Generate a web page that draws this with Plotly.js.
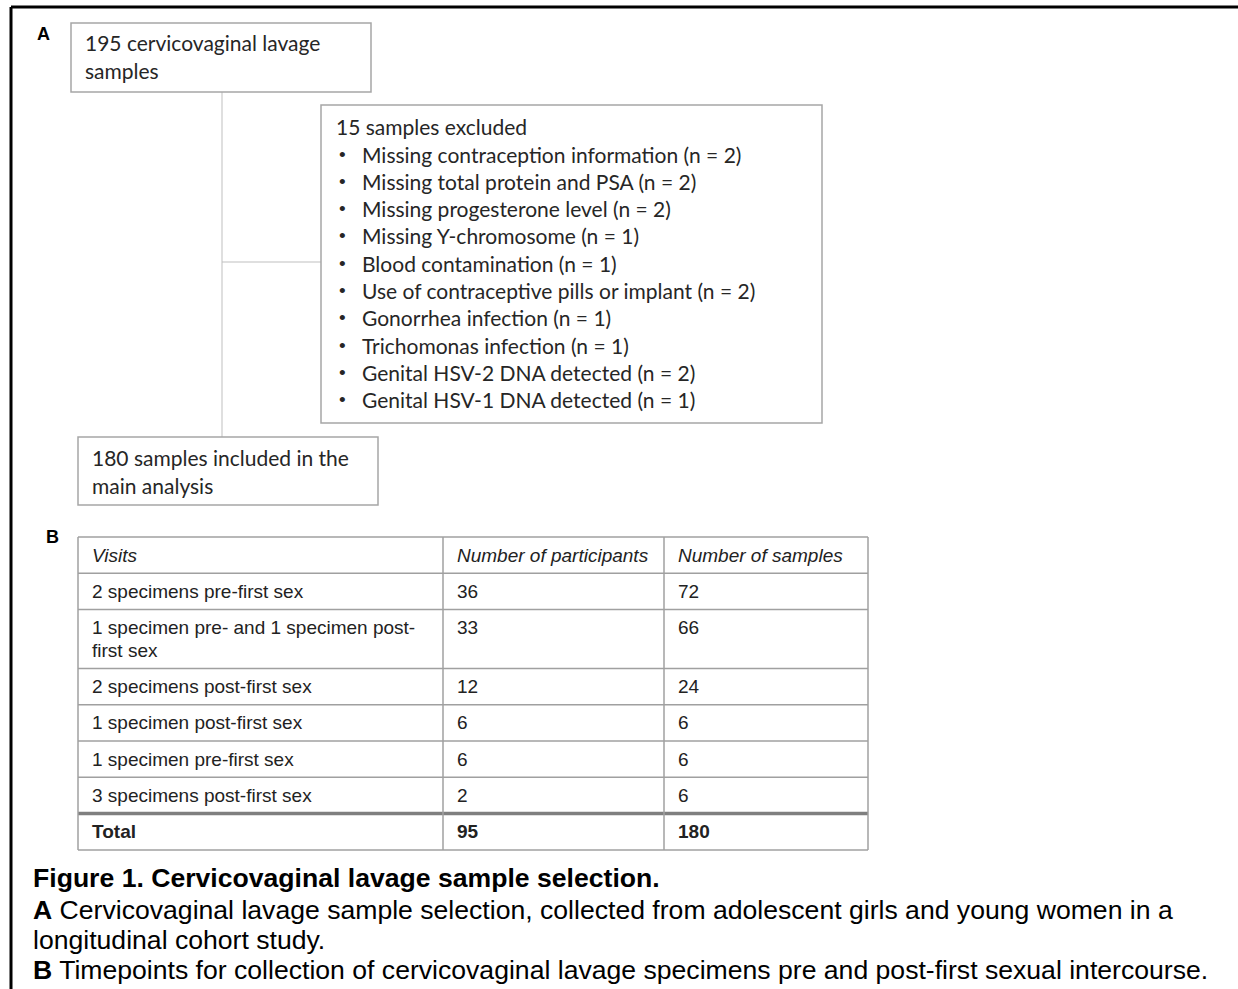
<!DOCTYPE html>
<html>
<head>
<meta charset="utf-8">
<script src="https://cdn.plot.ly/plotly-3.0.1.min.js"></script>
<style>
html,body{margin:0;padding:0;background:#fff;}
#chart{width:1238px;height:989px;}
</style>
</head>
<body>
<div id="chart"></div>
<script>
// ---------------- DATA ----------------
const totalSamples = 195;
const excludedSamples = 15;
const includedSamples = 180;

const exclusionReasons = [
  "Missing contraception information",
  "Missing total protein and PSA",
  "Missing progesterone level",
  "Missing Y-chromosome",
  "Blood contamination",
  "Use of contraceptive pills or implant",
  "Gonorrhea infection",
  "Trichomonas infection",
  "Genital HSV-2 DNA detected",
  "Genital HSV-1 DNA detected"
];
const exclusionCounts = [2, 2, 2, 1, 1, 2, 1, 1, 2, 1];

const tableHeaders = ["Visits", "Number of participants", "Number of samples"];
const visits = [
  "2 specimens pre-first sex",
  "1 specimen pre- and 1 specimen post-\nfirst sex",
  "2 specimens post-first sex",
  "1 specimen post-first sex",
  "1 specimen pre-first sex",
  "3 specimens post-first sex"
];
const participants = [36, 33, 12, 6, 6, 2];
const samples = [72, 66, 24, 6, 6, 6];
const totalLabel = "Total";
const totalParticipants = 95;
const totalSamplesIncluded = 180;

const captionTitle = "Figure 1. Cervicovaginal lavage sample selection.";
const captionA = ["Cervicovaginal lavage sample selection, collected from adolescent girls and young women in a", "longitudinal cohort study."];
const captionB = "Timepoints for collection of cervicovaginal lavage specimens pre and post-first sexual intercourse.";

// ---------------- LAYOUT HELPERS ----------------
const W = 1238, H = 989;
const shapes = [];
const ann = [];
const flowFont = {family: "Lato, 'Noto Sans', sans-serif", size: 21, color: "#262626"};
const bulletFont = {family: "'Liberation Sans', Arial, sans-serif", size: 19, color: "#262626"};
const tabFont = {family: "'Liberation Sans', Arial, sans-serif", size: 19, color: "#222"};
const capFont = {family: "'Liberation Sans', Arial, sans-serif", size: 26.6, color: "#000"};

function line(x0, y0, x1, y1, color, width) {
  shapes.push({type: "line", xref: "x", yref: "y", x0, y0, x1, y1, line: {color, width}});
}
function rect(x0, y0, x1, y1, color, width) {
  shapes.push({type: "rect", xref: "x", yref: "y", x0, y0, x1, y1, line: {color, width}, fillcolor: "rgba(0,0,0,0)"});
}
function text(x, y, t, font, anchor) {
  ann.push({xref: "x", yref: "y", x: anchor === "center" ? x : x - 2, y, text: t, showarrow: false, xanchor: anchor || "left", yanchor: "middle", font, align: "left"});
}

// Outer frame (top and left)
line(11, 7, W, 7, "#000", 3);
line(11, 7, 11, H, "#000", 3);

// Panel labels
text(37, 34, "<b>A</b>", {family: "'Liberation Sans', Arial, sans-serif", size: 18, color: "#000"});
text(46, 537, "<b>B</b>", {family: "'Liberation Sans', Arial, sans-serif", size: 18, color: "#000"});

// ---------- Flowchart ----------
const boxColor = "#a6a6a6", connColor = "#bfbfbf";
// connectors
line(222, 92, 222, 437, connColor, 1);
line(222, 262, 321, 262, connColor, 1);
// box 1
rect(71, 23, 371, 92, boxColor, 1.5);
text(85, 42.5, totalSamples + " cervicovaginal lavage", flowFont);
text(85, 70.5, "samples", flowFont);
// box 2
rect(321, 105, 822, 423, boxColor, 1.5);
text(336, 126.5, excludedSamples + " samples excluded", flowFont);
exclusionReasons.forEach((r, i) => {
  const y = 154 + i * 27.3;
  text(342, y, "•", bulletFont, "center");
  text(362, y, r + " (n = " + exclusionCounts[i] + ")", flowFont);
});
// box 3
rect(78, 437, 378, 505, boxColor, 1.5);
text(92, 457.5, includedSamples + " samples included in the", flowFont);
text(92, 485.5, "main analysis", flowFont);

// ---------- Table ----------
const colX = [78, 443, 664, 868];
const tableTop = 537;
const gridColor = "#a0a0a0";
const rows = [];
rows.push({cells: tableHeaders.map(h => "<i>" + h + "</i>"), lines: 1});
visits.forEach((v, i) => {
  rows.push({cells: [v, String(participants[i]), String(samples[i])], lines: v.split("\n").length});
});
rows.push({cells: ["<b>" + totalLabel + "</b>", "<b>" + totalParticipants + "</b>", "<b>" + totalSamplesIncluded + "</b>"], lines: 1, total: true});

let y = tableTop;
const rowBounds = [y];
rows.forEach(r => {
  const h = 13.8 + 22.5 * r.lines;
  r.cells.forEach((c, ci) => {
    c.split("\n").forEach((ln, li) => {
      text(colX[ci] + 14, y + 18 + li * 22.5, ln, tabFont);
    });
  });
  y += h;
  rowBounds.push(y);
});
// horizontal lines
rowBounds.forEach((yy, i) => {
  const isTotalTop = (i === rows.length - 1);
  line(colX[0], yy, colX[3], yy, isTotalTop ? "#7f7f7f" : gridColor, isTotalTop ? 3.5 : 1.5);
});
// vertical lines
colX.forEach(xx => line(xx, tableTop, xx, rowBounds[rowBounds.length - 1], gridColor, 1.5));

// ---------- Caption ----------
text(33, 878, "<b>" + captionTitle + "</b>", capFont);
text(33, 910, "<b>A</b> " + captionA[0], capFont);
text(33, 940, captionA[1], capFont);
text(33, 970, "<b>B</b> " + captionB, capFont);

const layout = {
  width: W, height: H,
  margin: {l: 0, r: 0, t: 0, b: 0},
  paper_bgcolor: "#fff", plot_bgcolor: "#fff",
  showlegend: false,
  xaxis: {range: [0, W], visible: false, fixedrange: true},
  yaxis: {range: [H, 0], visible: false, fixedrange: true},
  shapes: shapes,
  annotations: ann
};
Plotly.newPlot("chart", [{x: [], y: [], type: "scatter", mode: "markers", hoverinfo: "skip"}], layout, {displayModeBar: false, staticPlot: true});
</script>
</body>
</html>
